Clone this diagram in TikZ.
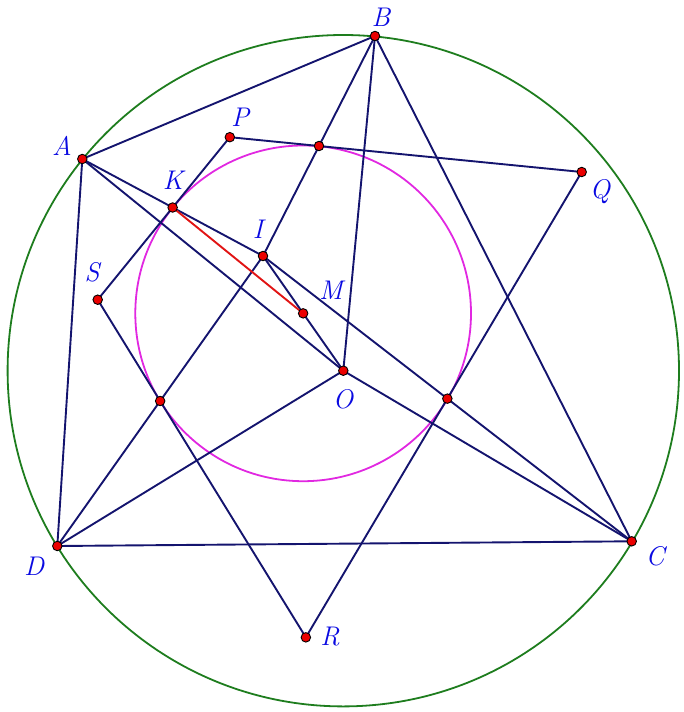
\documentclass[tikz,border=0pt]{standalone}
\usetikzlibrary{calc}
\definecolor{navyline}{RGB}{20,20,110}
\definecolor{bigcirc}{RGB}{30,125,30}
\definecolor{magcirc}{RGB}{225,40,225}
\definecolor{redseg}{RGB}{225,20,20}
\definecolor{ptred}{RGB}{235,0,0}
\definecolor{lblue}{RGB}{10,10,225}
\begin{document}
\begin{tikzpicture}[x=1pt,y=-1pt,
  seg/.style={draw=navyline,line width=1.9pt},
  pt/.style={circle,fill=ptred,draw=black,line width=0.9pt,inner sep=0pt,minimum size=9.5pt},
  lbl/.style={text=lblue,font=\fontsize{27}{32}\selectfont\itshape,inner sep=0pt}]
\useasboundingbox (0,0) rectangle (684,712);
\coordinate (O) at (343.3,370.7);
\coordinate (A) at (82.3,159);
\coordinate (B) at (375,36);
\coordinate (C) at (631.7,541.3);
\coordinate (D) at (57.3,546);
\coordinate (I) at (263,256);
\coordinate (S) at (97.7,299.7);
\coordinate (Q) at (581.7,172);
\coordinate (M) at ($(I)!0.5!(O)$);
\coordinate (K) at ($(A)!0.5!(I)$);
\coordinate (X) at ($(B)!0.5!(I)$);
\coordinate (Y) at ($(C)!0.5!(I)$);
\coordinate (Z) at ($(D)!0.5!(I)$);
\coordinate (P) at (intersection of S--K and Q--X);
\coordinate (R) at (intersection of S--Z and Q--Y);
% circles
\draw[draw=bigcirc,line width=1.8pt] (O) circle[radius=335.7pt];
\draw[draw=magcirc,line width=1.8pt] (M) circle[radius=167.85pt];
% quadrilateral ABCD
\draw[seg] (A) -- (B) -- (C) -- (D) -- cycle;
% radii
\draw[seg] (O) -- (A);
\draw[seg] (O) -- (B);
\draw[seg] (O) -- (C);
\draw[seg] (O) -- (D);
% from I
\draw[seg] (I) -- (A);
\draw[seg] (I) -- (B);
\draw[seg] (I) -- (C);
\draw[seg] (I) -- (D);
\draw[seg] (I) -- (O);
% PQRS
\draw[seg] (P) -- (Q) -- (R) -- (S) -- cycle;
% red segment
\draw[draw=redseg,line width=1.9pt] (K) -- (M);
% points
\foreach \p in {A,B,C,D,O,I,M,K,X,Y,Z,P,Q,R,S}
  \node[pt] (dot\p) at (\p) {};
% labels
\node[lbl] (lA) at (62,146) {A};
\node[lbl] (lB) at (381,17) {B};
\node[lbl] (lC) at (655,556) {C};
\node[lbl] (lD) at (34,566) {D};
\node[lbl] (lP) at (240,117) {P};
\node[lbl] (lQ) at (600,192) {Q};
\node[lbl] (lR) at (330,637) {R};
\node[lbl] (lS) at (92,272) {S};
\node[lbl] (lK) at (173,180) {K};
\node[lbl] (lI) at (258,229) {I};
\node[lbl] (lM) at (331,290) {M};
\node[lbl] (lO) at (343,399) {O};
\end{tikzpicture}
\end{document}
